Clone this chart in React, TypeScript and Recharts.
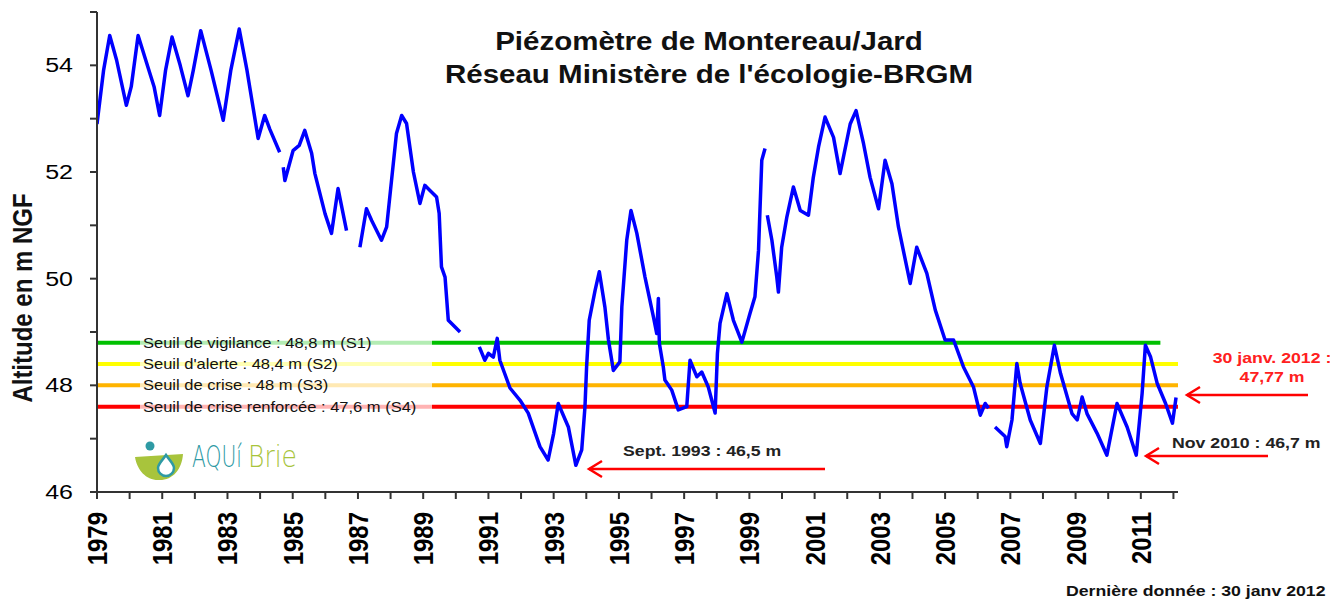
import { Line, LineChart, ReferenceLine, XAxis, YAxis } from "recharts";

// Piézomètre de Montereau/Jard, niveau en m NGF (null = lacune de mesure)
const years = [
  1979.0, 1979.2, 1979.39, 1979.6, 1979.9, 1980.05, 1980.26, 1980.56, 1980.75, 1980.92,
  1981.1, 1981.3, 1981.55, 1981.79, 1981.95, 1982.18, 1982.5, 1982.87, 1983.1, 1983.36,
  1983.6, 1983.94, 1984.14, 1984.3, 1984.6, 1984.65, 1984.71, 1984.76, 1985.01, 1985.2,
  1985.37, 1985.58, 1985.68, 1985.99, 1986.19, 1986.39, 1986.65, 1986.85, 1987.06, 1987.26,
  1987.42, 1987.72, 1987.88, 1988.18, 1988.34, 1988.49, 1988.7, 1988.9, 1989.05, 1989.2,
  1989.41, 1989.49, 1989.56, 1989.67, 1989.77, 1990.13, 1990.4, 1990.72, 1990.89, 1991.0,
  1991.15, 1991.27, 1991.35, 1991.66, 1991.97, 1992.22, 1992.58, 1992.83, 1993.0, 1993.14,
  1993.45, 1993.68, 1993.86, 1993.96, 1994.01, 1994.09, 1994.27, 1994.4, 1994.57, 1994.68,
  1994.83, 1995.03, 1995.09, 1995.24, 1995.37, 1995.55, 1995.8, 1996.06, 1996.16, 1996.21,
  1996.24, 1996.36, 1996.41, 1996.62, 1996.82, 1997.08, 1997.18, 1997.39, 1997.54, 1997.74,
  1997.95, 1998.02, 1998.1, 1998.31, 1998.51, 1998.77, 1999.02, 1999.17, 1999.28, 1999.38,
  1999.48, 1999.51, 1999.55, 1999.69, 1999.84, 1999.89, 1999.99, 2000.15, 2000.35, 2000.56,
  2000.81, 2000.96, 2001.12, 2001.32, 2001.58, 2001.78, 2002.09, 2002.27, 2002.5, 2002.7,
  2002.96, 2003.16, 2003.37, 2003.57, 2003.93, 2004.13, 2004.44, 2004.7, 2005.0, 2005.26,
  2005.56, 2005.87, 2006.08, 2006.23, 2006.33, 2006.43, 2006.53, 2006.84, 2006.89, 2007.05,
  2007.2, 2007.3, 2007.61, 2007.92, 2008.12, 2008.35, 2008.54, 2008.89, 2009.05, 2009.2,
  2009.35, 2009.66, 2009.96, 2010.27, 2010.58, 2010.86, 2011.04, 2011.14, 2011.3, 2011.5,
  2011.76, 2011.97, 2012.08,
];

const levels = [
  52.9, 53.9, 54.56, 54.1, 53.25, 53.6, 54.56, 53.97, 53.6, 53.06,
  53.9, 54.53, 54.0, 53.43, 53.9, 54.65, 53.9, 52.97, 53.9, 54.68,
  53.9, 52.63, 53.06, 52.8, 52.37, null, 52.09, 51.84, 52.4, 52.5,
  52.78, 52.35, 51.97, 51.22, 50.85, 51.69, 50.9, null, 50.59, 51.31,
  51.09, 50.72, 50.97, 52.72, 53.06, 52.91, 52.0, 51.41, 51.75, 51.66,
  51.53, 51.22, 50.22, 50.03, 49.22, 49.0, null, 48.72, 48.47, 48.6,
  48.53, 48.88, 48.47, 47.95, 47.72, 47.48, 46.85, 46.6, 47.1, 47.66,
  47.22, 46.5, 46.79, 47.6, 48.35, 49.22, 49.78, 50.13, 49.47, 48.85,
  48.28, 48.44, 49.47, 50.72, 51.28, 50.85, 50.03, 49.28, 48.97, 49.63,
  48.79, 48.35, 48.1, 47.91, 47.54, 47.6, 48.47, 48.16, 48.25, 47.97,
  47.48, 48.6, 49.16, 49.72, 49.22, 48.81, 49.35, 49.66, 50.53, 52.22,
  52.44, null, 51.19, 50.72, 50.03, 49.75, 50.59, 51.16, 51.72, 51.28,
  51.19, 51.9, 52.47, 53.03, 52.65, 51.97, 52.9, 53.15, 52.53, 51.9,
  51.31, 52.22, 51.78, 50.97, 49.91, 50.59, 50.1, 49.41, 48.85, 48.85,
  48.35, 47.97, 47.44, 47.66, 47.57, null, 47.22, 47.04, 46.85, 47.35,
  48.41, 48.04, 47.35, 46.91, 47.97, 48.75, 48.22, 47.47, 47.35, 47.78,
  47.47, 47.1, 46.69, 47.66, 47.22, 46.69, 47.85, 48.75, 48.53, 48.04,
  47.66, 47.29, 47.77,
];

const thresholdNames = [
  "Seuil de vigilance : 48,8 m (S1)",
  "Seuil d'alerte : 48,4 m (S2)",
  "Seuil de crise : 48 m (S3)",
  "Seuil de crise renforcée : 47,6 m (S4)",
];
const thresholdValues = [48.8, 48.4, 48.0, 47.6];
const thresholdEnds = [2011.6, 2012.14, 2012.14, 2012.14];
const thresholdColors = ["#00c000", "#ffff00", "#ffb400", "#ff0000"];

const xTicks = [
  1979, 1980, 1981, 1982, 1983, 1984, 1985, 1986, 1987, 1988, 1989, 1990, 1991, 1992, 1993, 1994, 1995,
  1996, 1997, 1998, 1999, 2000, 2001, 2002, 2003, 2004, 2005, 2006, 2007, 2008, 2009, 2010, 2011, 2012,
];
const yTicks = [46, 47, 48, 49, 50, 51, 52, 53, 54, 55];

const data = years.map((t, i) => ({ t, niveau: levels[i] }));

const FONT = "'Liberation Sans', Arial, sans-serif";
const SX = 1.18; // the reference is stretched horizontally

function SText({ x, y, sx = SX, children, ...rest }: any) {
  return (
    <text transform={`translate(${x},${y}) scale(${sx},1)`} fontFamily={FONT} {...rest}>
      {children}
    </text>
  );
}

function XTick({ x, y, payload }: any) {
  const v = payload.value;
  if (v % 2 === 0) return <g />;
  return (
    <text
      transform={`translate(${x + 10},${y + 11}) scale(${SX},1) rotate(-90)`}
      textAnchor="end"
      fontFamily={FONT}
      fontWeight="bold"
      fontSize={24}
      fill="#000"
    >
      {v}
    </text>
  );
}

function YTick({ x, y, payload }: any) {
  const v = payload.value;
  if (v % 2 !== 0) return <g />;
  return (
    <SText x={x - 15} y={y + 7} sx={1.25} textAnchor="end" fontSize={20} fill="#000">
      {v}
    </SText>
  );
}

function ThresholdLabel({ viewBox, text }: any) {
  const x0 = 97;
  const y = viewBox.y;
  return (
    <g>
      <rect x={x0 + 43} y={y - 3} width={292} height={6} fill="#fff" fillOpacity={0.7} />
      <SText x={x0 + 46} y={y + 5} fontSize={14} fill="#111">
        {text}
      </SText>
    </g>
  );
}

function Arrow({ x1, x2, y }: { x1: number; x2: number; y: number }) {
  return (
    <g stroke="#ff0000" strokeWidth={2.5} fill="none">
      <line x1={x1} y1={y} x2={x2} y2={y} />
      <polyline points={`${x2 + 13},${y - 8} ${x2},${y} ${x2 + 13},${y + 8}`} />
    </g>
  );
}

function Overlay() {
  return (
    <svg
      width={1336}
      height={599}
      style={{ position: "absolute", left: 0, top: 0, pointerEvents: "none" }}
    >
      <SText x={709} y={50} textAnchor="middle" fontSize={25} fontWeight="bold" fill="#111">
        Piézomètre de Montereau/Jard
      </SText>
      <SText x={709} y={83} textAnchor="middle" fontSize={25} fontWeight="bold" fill="#111">
        Réseau Ministère de l'écologie-BRGM
      </SText>

      <text
        transform={`translate(32,298) scale(${SX},1) rotate(-90)`}
        textAnchor="middle"
        fontFamily={FONT}
        fontWeight="bold"
        fontSize={24}
        fill="#111"
      >
        Altitude en m NGF
      </text>

      <SText x={623} y={456} fontSize={15} fontWeight="bold" fill="#222">
        Sept. 1993 : 46,5 m
      </SText>
      <Arrow x1={825} x2={589} y={469} />

      <SText x={1172} y={448} fontSize={15} fontWeight="bold" fill="#222">
        Nov 2010 : 46,7 m
      </SText>
      <Arrow x1={1268} x2={1146} y={456} />

      <SText x={1272} y={363} textAnchor="middle" fontSize={15} fontWeight="bold" fill="#ff2020">
        30 janv. 2012 :
      </SText>
      <SText x={1272} y={382} textAnchor="middle" fontSize={15} fontWeight="bold" fill="#ff2020">
        47,77 m
      </SText>
      <Arrow x1={1308} x2={1187} y={395} />

      <SText x={1066} y={596} fontSize={15} fontWeight="bold" fill="#111">
        Dernière donnée  : 30 janv  2012
      </SText>

      {/* logo AQUI'Brie */}
      <circle cx={150} cy={446} r={4.5} fill="#2e9aa4" />
      <path d="M135 457 L183 454 C182 470 172 481 158 480 C146 480 137 470 135 457 Z" fill="#a8c43c" />
      <path d="M166 455 C170 461 174 464 174 468 A8 8 0 1 1 158 468 C158 464 162 461 166 455 Z" fill="#fff" stroke="#2e9aa4" strokeWidth={2.5} />
      <text transform="translate(192,467) scale(1,1.35)" fontFamily="'DejaVu Sans', sans-serif" fontWeight={200} fontSize={22} fill="#2e9aa4" textLength={50} lengthAdjust="spacingAndGlyphs">
        AQUí
      </text>
      <text transform="translate(248,467) scale(1,1.35)" fontFamily="'DejaVu Sans', sans-serif" fontWeight={200} fontSize={22} fill="#a8c43c" textLength={49} lengthAdjust="spacingAndGlyphs">
        Brie
      </text>
    </svg>
  );
}

export default function App() {
  return (
    <div style={{ position: "absolute", left: 0, top: 0, width: 1336, height: 599, background: "#fff" }}>
      <LineChart width={1336} height={599} data={data} margin={{ top: 12, right: 158, bottom: 0, left: 37 }}>
        <XAxis
          dataKey="t"
          type="number"
          domain={[1979, 2012.14]}
          ticks={xTicks}
          interval={0}
          allowDataOverflow
          height={107}
          tickSize={7}
          tick={<XTick />}
          axisLine={{ stroke: "#333", strokeWidth: 2 }}
          tickLine={{ stroke: "#333", strokeWidth: 2 }}
        />
        <YAxis
          type="number"
          domain={[46, 55]}
          ticks={yTicks}
          interval={0}
          allowDataOverflow
          width={60}
          tickSize={7}
          tick={<YTick />}
          axisLine={{ stroke: "#333", strokeWidth: 2 }}
          tickLine={{ stroke: "#333", strokeWidth: 2 }}
        />
        {thresholdValues.map((v, i) => (
          <ReferenceLine
            key={thresholdNames[i]}
            segment={[
              { x: 1979, y: v },
              { x: thresholdEnds[i], y: v },
            ]}
            stroke={thresholdColors[i]}
            strokeWidth={4}
            ifOverflow="visible"
            label={<ThresholdLabel text={thresholdNames[i]} />}
          />
        ))}
        <Line
          type="linear"
          dataKey="niveau"
          stroke="#0000ff"
          strokeWidth={3.5}
          strokeLinejoin="round"
          dot={false}
          connectNulls={false}
          isAnimationActive={false}
        />
      </LineChart>
      <Overlay />
    </div>
  );
}
